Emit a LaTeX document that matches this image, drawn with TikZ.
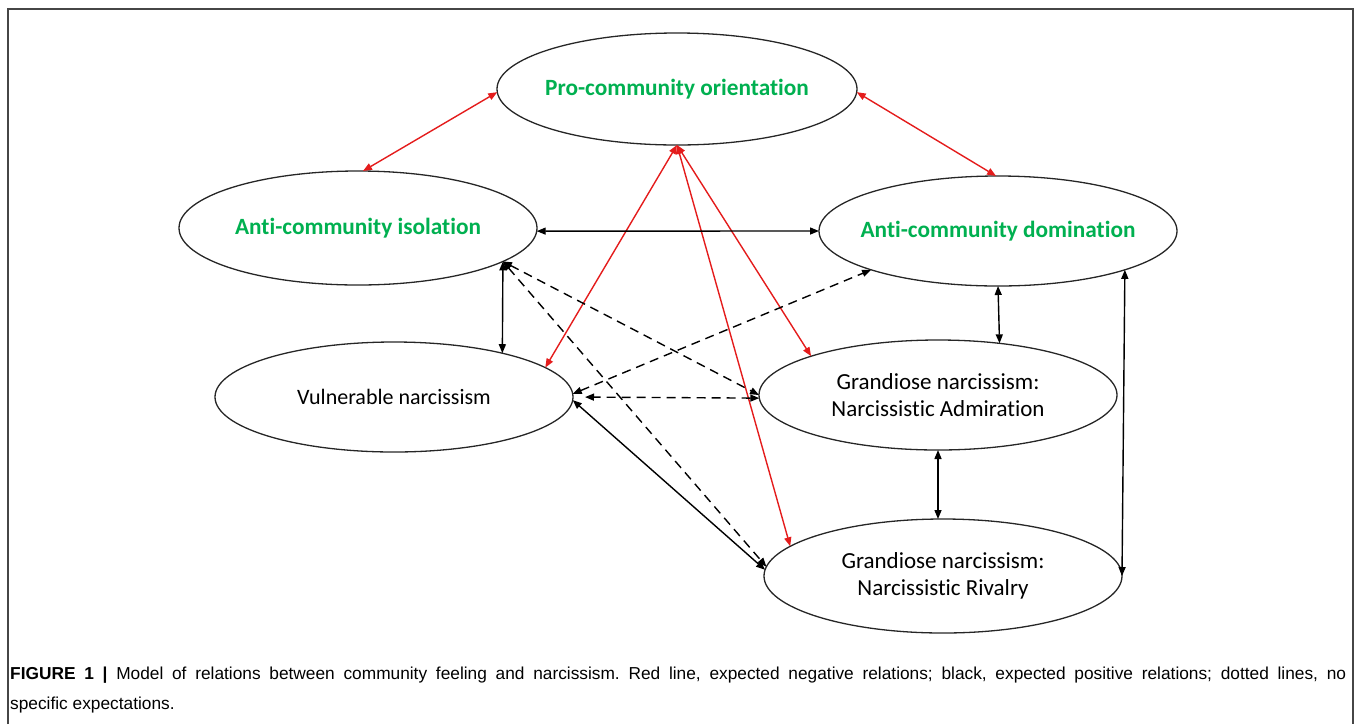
\documentclass[tikz,border=0pt]{standalone}
\usepackage{fontspec}
\setmainfont[Ligatures=NoCommon]{Carlito}
\newfontfamily\capfont{Liberation Sans}
\usetikzlibrary{arrows.meta,shapes.geometric}
\definecolor{grn}{RGB}{0,176,80}
\definecolor{rd}{RGB}{228,28,28}
\definecolor{frm}{RGB}{70,70,70}
\begin{document}
\begin{tikzpicture}[x=1pt,y=-1pt,
  ell/.style={ellipse, draw=black!85, line width=1.3pt, inner sep=0pt, outer sep=0pt, align=center,
    minimum width=358pt, minimum height=112pt, font=\fontsize{22}{27}\selectfont},
  two/.style={font=\fontsize{23}{27.5}\selectfont},
  gtxt/.style={text=grn, font=\fontsize{23.3}{28}\selectfont\bfseries},
  lnk/.style={line width=1.4pt, {Triangle[length=9pt,width=7pt]}-{Triangle[length=9pt,width=7pt]}},
  negrel/.style={lnk, draw=rd},
  posrel/.style={lnk, draw=black},
  unkrel/.style={lnk, draw=black, dash pattern=on 9pt off 6pt},
  captxt/.style={anchor=base west, inner sep=0pt, font=\capfont\fontsize{17.3}{30}\selectfont\frenchspacing}
]
\useasboundingbox (0,0) rectangle (1357,724);
\draw[frm, line width=1.2pt] (8,724) -- (8,9) -- (1353,9) -- (1353,724);

\node[ell, gtxt, minimum width=360pt] (pro) at (677,89) {\makebox[0pt]{Pro-community orientation}};
\node[ell, gtxt, minimum height=114pt] (iso) at (358,228) {\makebox[0pt]{Anti-community isolation}};
\node[ell, gtxt, minimum height=110pt] (dom) at (998,231) {\makebox[0pt]{Anti-community domination}};
\node[ell, minimum height=110pt] (vul) at (394,397) {\makebox[0pt]{Vulnerable narcissism}};
\node[ell, two, minimum height=110pt] (adm) at (938,395) {Grandiose narcissism:\\Narcissistic Admiration};
\node[ell, two, minimum height=114pt] (riv) at (943,576) {Grandiose narcissism:\\Narcissistic Rivalry};

% red: expected negative relations
\draw[negrel] (pro.181.3) -- (iso.85);
\draw[negrel] (pro.-1.3) -- (dom.92);
\draw[negrel] (pro.south) -- (vul.11.75);
\draw[negrel] (pro.south) -- (adm.163.1);
\draw[negrel] (pro.south) -- (riv.169.8);

% black: expected positive relations
\draw[posrel] (iso.-1) -- (dom.180);
\draw[posrel] (iso.-13.7) -- (vul.22.5);
\draw[posrel] (dom.south) -- (adm.40.8);
\draw[posrel] (adm.south) -- (adm.south |- riv.north);
\draw[posrel] (dom.-17.1) -- (riv.east);
\draw[posrel] (vul.-1) -- (riv.178.5);

% dashed: no specific expectations
\draw[unkrel] (iso.-13.7) -- (adm.west);
\draw[unkrel] (iso.-13.7) -- (riv.177.5);
\draw[unkrel] (vul.1) -- (dom.-163);
\draw[unkrel, shorten >=12pt] (adm.181) -- (vul.-0.5);

\node[captxt] (cap1) at (10,679) {\makebox[1336pt][s]{\textbf{FIGURE 1 |} Model of relations between community feeling and narcissism. Red line, expected negative relations; black, expected positive relations; dotted lines, no}};
\node[captxt] (cap2) at (10,709) {specific expectations.};
\end{tikzpicture}
\end{document}
